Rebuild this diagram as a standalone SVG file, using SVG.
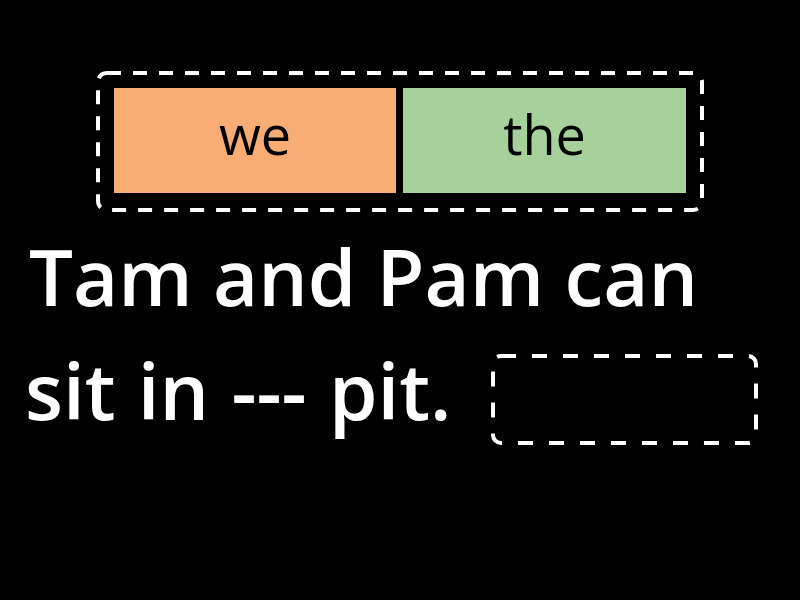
<svg xmlns="http://www.w3.org/2000/svg" width="800" height="600" viewBox="0 0 800 600">
<style>
.dash{fill:none;stroke:#fff;stroke-width:4;stroke-dasharray:14 12}
.tile{font-family:"Open Sans","Noto Sans",sans-serif;font-size:54px;fill:#000;text-anchor:middle}
.q{font-family:"Open Sans","Noto Sans",sans-serif;font-size:78px;fill:#fff;font-weight:600}
</style>
<rect x="0" y="0" width="800" height="600" fill="#000"/>
<g id="answers">
<rect class="dash" x="98" y="73" width="604" height="137" rx="9"/>
<g id="tile-we">
<rect x="114" y="88" width="282" height="105" fill="#F7AD73"/>
<text class="tile" x="255" y="155">we</text>
</g>
<g id="tile-the">
<rect x="403" y="88" width="283" height="105" fill="#A6D19A"/>
<text class="tile" x="544.5" y="155">the</text>
</g>
</g>
<g id="question">
<text class="q" x="29" y="306">Tam and Pam can</text>
<text class="q" x="25" y="420" word-spacing="2">sit in --- pit.</text>
</g>
<g id="blank">
<rect class="dash" x="493" y="356" width="263" height="87" rx="8" style="stroke-dasharray:15 16"/>
</g>
</svg>
